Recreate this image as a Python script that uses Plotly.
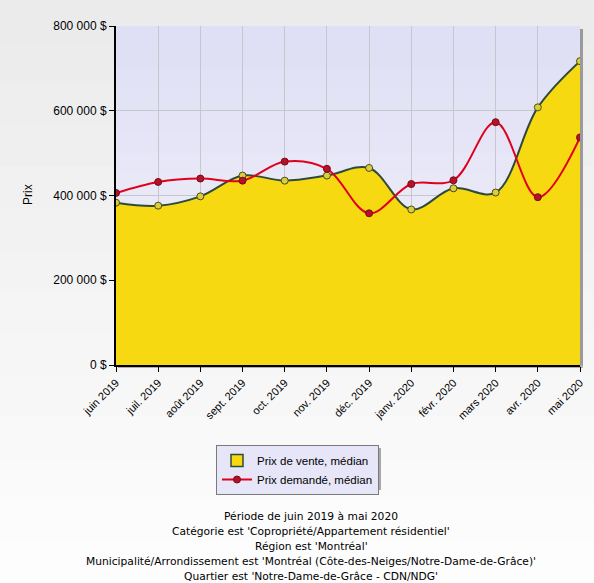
import plotly.graph_objects as go

# data
months = [
    "juin 2019", "juil. 2019", "août 2019", "sept. 2019", "oct. 2019", "nov. 2019",
    "déc. 2019", "janv. 2020", "févr. 2020", "mars 2020", "avr. 2020", "mai 2020",
]
prix_vente = [383000, 376000, 398000, 447000, 435000, 447000,
              465000, 367000, 417000, 407000, 608000, 717000]
prix_demande = [406000, 432000, 440000, 435000, 480000, 463000,
                358000, 427000, 436000, 573000, 396000, 537000]
y_ticks = [0, 200000, 400000, 600000, 800000]
y_tick_text = ["0 $", "200 000 $", "400 000 $", "600 000 $", "800 000 $"]
footer_lines = [
    "Période de juin 2019 à mai 2020",
    "Catégorie est 'Copropriété/Appartement résidentiel'",
    "Région est 'Montréal'",
    "Municipalité/Arrondissement est 'Montréal (Côte-des-Neiges/Notre-Dame-de-Grâce)'",
    "Quartier est 'Notre-Dame-de-Grâce - CDN/NDG'",
]

W, H = 594, 583
L, R, T, B = 116, 14, 26, 218
PW, PH = W - L - R, H - T - B


def px_x(x):
    return (x - L) / PW


def px_y(y):
    return (H - B - y) / PH


def mix(c1, c2, t):
    a = [int(c1[i:i + 2], 16) for i in (1, 3, 5)]
    b = [int(c2[i:i + 2], 16) for i in (1, 3, 5)]
    return "rgb(%d,%d,%d)" % tuple(round(a[k] + (b[k] - a[k]) * t) for k in range(3))


x_idx = list(range(len(months)))

fig = go.Figure()
fig.add_trace(
    go.Scatter(
        x=x_idx,
        y=prix_vente,
        name="Prix de vente, médian",
        mode="lines+markers",
        line={"color": "#2d4a3c", "width": 2, "shape": "spline", "smoothing": 1},
        marker={"size": 7, "color": "#d9cf3a", "line": {"color": "#4a4a20", "width": 1}},
        fill="tozeroy",
        fillcolor="#f7d912",
        hoverinfo="x+y",
        showlegend=False,
    )
)
# legend-only entry so the key shows a filled box like the original
fig.add_trace(
    go.Bar(
        x=[None],
        y=[None],
        name="Prix de vente, médian",
        marker={"color": "#f7d912", "line": {"color": "#2d4a3c", "width": 1.5}},
        legendrank=1,
    )
)
fig.add_trace(
    go.Scatter(
        x=x_idx,
        y=prix_demande,
        name="Prix demandé, médian",
        mode="lines+markers",
        line={"color": "#e0001b", "width": 2, "shape": "spline", "smoothing": 1},
        marker={"size": 7, "color": "#b5122a", "line": {"color": "#7a0a18", "width": 1}},
        hoverinfo="x+y",
        legendrank=2,
    )
)

shapes = []
# page background gradient
n = 14
for i in range(n):
    y0 = H * i / n
    y1 = H * (i + 1) / n + 1
    shapes.append(dict(
        type="rect", xref="paper", yref="paper", layer="below",
        x0=px_x(0), x1=px_x(W), y0=px_y(y1), y1=px_y(y0),
        fillcolor=mix("#ebebeb", "#fdfdfd", i / (n - 1)), line={"width": 0},
    ))
# plot shadow on right and bottom
shapes.append(dict(
    type="rect", xref="paper", yref="paper", layer="below",
    x0=1, x1=px_x(L + PW + 3), y0=px_y(H - B + 3), y1=px_y(T + 3),
    fillcolor="#9a9a9a", line={"width": 0},
))
shapes.append(dict(
    type="rect", xref="paper", yref="paper", layer="below",
    x0=px_x(L + 2), x1=px_x(L + PW + 3), y0=px_y(H - B + 3), y1=0,
    fillcolor="#b0b0b0", line={"width": 0},
))
# plot area gradient
m = 16
for i in range(m):
    shapes.append(dict(
        type="rect", xref="x domain", yref="y domain", layer="below",
        x0=0, x1=1, y0=1 - (i + 1) / m - 0.002, y1=1 - i / m,
        fillcolor=mix("#dfdff5", "#f2f2fa", i / (m - 1)), line={"width": 0},
    ))
# legend shadow
shapes.append(dict(
    type="rect", xref="paper", yref="paper",
    x0=px_x(219), x1=px_x(381), y0=px_y(490), y1=px_y(448),
    fillcolor="#a8a8a8", line={"width": 0},
))

annotations = [
    dict(
        text="Prix", xref="paper", yref="paper", x=px_x(28), y=px_y(195),
        xanchor="center", yanchor="middle",
        textangle=-90, showarrow=False,
        font={"family": "Liberation Sans, Arial", "size": 12, "color": "#000"},
    )
]
for i, line in enumerate(footer_lines):
    annotations.append(dict(
        text=line, xref="paper", yref="paper", x=px_x(311), y=px_y(516 + 15 * i),
        xanchor="center", yanchor="middle", showarrow=False,
        font={"family": "DejaVu Sans, Verdana", "size": 10.7, "color": "#000"},
    ))

fig.update_layout(
    width=W,
    height=H,
    margin={"l": L, "r": R, "t": T, "b": B, "pad": 0},
    paper_bgcolor="#f4f4f4",
    plot_bgcolor="#e8e8f6",
    font={"family": "Liberation Sans, Arial", "size": 12, "color": "#000"},
    showlegend=True,
    legend={
        "x": px_x(216), "y": px_y(445), "xanchor": "left", "yanchor": "top",
        "bgcolor": "#e6e6f8", "bordercolor": "#7a7a7a", "borderwidth": 1,
        "font": {"family": "Liberation Sans, Arial", "size": 11.5, "color": "#000"},
        "tracegroupgap": 0, "itemwidth": 30,
    },
    xaxis={
        "range": [0, len(months) - 1],
        "tickvals": x_idx,
        "ticktext": months,
        "tickangle": -45,
        "ticks": "outside",
        "ticklen": 5,
        "tickcolor": "#000",
        "tickfont": {"size": 11},
        "showline": True,
        "linecolor": "#000",
        "linewidth": 2,
        "showgrid": True,
        "gridcolor": "#c6c6cc",
        "gridwidth": 1,
        "zeroline": False,
        "automargin": False,
        "fixedrange": True,
    },
    yaxis={
        "range": [0, 800000],
        "tickvals": y_ticks,
        "ticktext": y_tick_text,
        "ticks": "outside",
        "ticklen": 5,
        "tickcolor": "#000",
        "tickfont": {"size": 12},
        "showline": True,
        "linecolor": "#000",
        "linewidth": 2,
        "showgrid": True,
        "gridcolor": "#c6c6cc",
        "gridwidth": 1,
        "zeroline": False,
        "automargin": False,
        "fixedrange": True,
    },
    shapes=shapes,
    annotations=annotations,
)

fig.write_html(
    "out.html",
    config={"displayModeBar": False},
    post_script="document.body.style.margin='0px';document.body.style.overflow='hidden';",
)
